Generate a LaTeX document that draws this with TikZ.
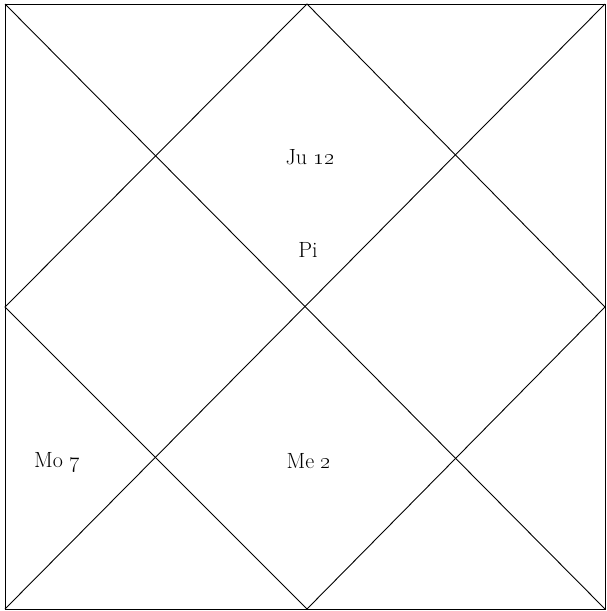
\RequirePackage{fix-cm}
\documentclass[tikz,border=0pt]{standalone}
\begin{document}
\begin{tikzpicture}[x=1pt, y=-1pt, thin]
  \tikzstyle{house} = [draw=black, line width=0.9pt]
  \tikzstyle{planet} = [font=\fontsize{22}{26}\selectfont, inner sep=0pt]

  \useasboundingbox (0,0) rectangle (606,611);

  \coordinate (tl) at (5,4);
  \coordinate (tr) at (605,4);
  \coordinate (br) at (605,609);
  \coordinate (bl) at (5,609);
  \coordinate (top) at (307,4);
  \coordinate (right) at (605,307);
  \coordinate (bottom) at (307,609);
  \coordinate (left) at (5,307);

  \draw [house] (tl) rectangle (br);
  \draw [house] (tl) -- (br);
  \draw [house] (tr) -- (bl);
  \draw [house] (top) -- (right) -- (bottom) -- (left) -- cycle;

  \node [planet] (ju) at (310,157) {Ju \oldstylenums{12}};
  \node [planet] (pi) at (308,250) {Pi};
  \node [planet] (mo) at (57,462) {Mo \oldstylenums{7}};
  \node [planet] (me) at (309,461) {Me \oldstylenums{2}};
\end{tikzpicture}
\end{document}
